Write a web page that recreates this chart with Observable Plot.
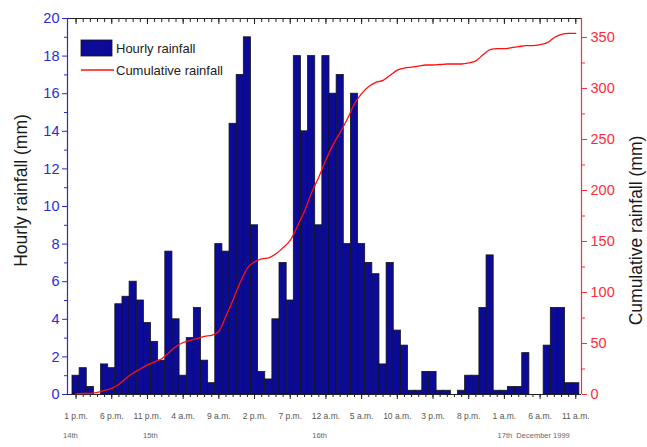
<!DOCTYPE html>
<html><head><meta charset="utf-8">
<script src="https://cdn.jsdelivr.net/npm/d3@7"></script>
<script src="https://cdn.jsdelivr.net/npm/@observablehq/plot@0.6"></script>
<style>
html,body{margin:0;padding:0;background:#fff;}
#chart{position:relative;width:647px;height:447px;font-family:"Liberation Sans",Arial,sans-serif;}
#chart > svg{position:absolute;left:0;top:0;}
</style></head><body><div id="chart"></div>
<script>
// Hourly rainfall (mm), one value per hour from 1 p.m. on the 14th to 11 a.m. on the 17th
const hourly = [
  1.0, 1.4, 0.4, 0.0, 1.6, 1.4, 4.8, 5.2, 6.0, 5.0, 3.8, 2.8, 1.8, 7.6, 4.0, 1.0,
  3.0, 4.6, 1.8, 0.6, 8.0, 7.6, 14.4, 17.0, 19.0, 9.0, 1.2, 0.8, 4.0, 7.0, 5.0, 18.0,
  14.0, 18.0, 9.0, 18.0, 16.0, 17.0, 8.0, 16.0, 8.0, 7.0, 6.4, 1.6, 7.0, 3.4, 2.6, 0.2,
  0.2, 1.2, 1.2, 0.2, 0.2, 0.0, 0.2, 1.0, 1.0, 4.6, 7.4, 0.2, 0.2, 0.4, 0.4, 2.2,
  0.0, 0.0, 2.6, 4.6, 4.6, 0.6, 0.6
];
// Cumulative rainfall (mm) at the same hours
const cumulative = [
  0.7, 1, 1, 2, 4, 6, 10, 16, 21, 25, 29, 32, 35, 41, 47, 51,
  53, 55, 57, 58, 62, 77, 93, 110, 124, 130, 133, 134, 138, 144, 151, 165,
  180, 198, 213, 230, 245, 257, 270, 285, 295, 302, 306, 308, 313, 318, 320, 321,
  322, 323, 323, 323.5, 324, 324, 324, 325, 327, 333, 338, 339, 339, 340, 341, 342,
  342, 343, 345, 350, 353, 354, 354
];
// Labels for every fifth hour
const tickLabels = ["1 p.m.","6 p.m.","11 p.m.","4 a.m.","9 a.m.","2 p.m.","7 p.m.","12 a.m.",
  "5 a.m.","10 a.m.","3 p.m.","8 p.m.","1 a.m.","6 a.m.","11 a.m."];
const dayLabels = ["14th","15th","16th","17th  December 1999"];
const dayHours = [-0.8, 10.4, 34.1, 64.1];
const seriesNames = ["Hourly rainfall","Cumulative rainfall"];

const W = 647, H = 447;
const frame = {marginLeft: 67, marginRight: 66, marginTop: 18, marginBottom: 53};
const xDomain = [-1.2, 70.8];
const blue = "#2b2bd6", red = "#ff2a3a";
const font = "'Liberation Sans', Arial, sans-serif";

const bars = hourly.map((v, i) => ({i, v}));
const cum = cumulative.map((v, i) => ({i, v}));
const hours = d3.range(0, hourly.length);
const majorHours = hours.filter(h => h % 5 === 0);
const blank = () => "";

// Hourly bars, time axes and the left (mm per hour) axis
const hourlyChart = Plot.plot({
  width: W, height: H, ...frame,
  style: {fontFamily: font, background: "transparent", overflow: "visible"},
  x: {domain: xDomain, axis: null, label: null},
  y: {domain: [0, 20], axis: null, label: null},
  marks: [
    Plot.rectY(bars.filter(d => d.v > 0), {
      x1: d => d.i - 0.5, x2: d => d.i + 0.5, y: "v",
      fill: "#0b0b98", stroke: "#151515", strokeWidth: 0.8
    }),
    Plot.ruleY([0], {stroke: "#222", strokeWidth: 1.2}),
    Plot.ruleY([20], {stroke: "#222", strokeWidth: 1.2}),
    Plot.ruleX([xDomain[0]], {stroke: blue, strokeWidth: 1.2}),
    // bottom hour ticks
    Plot.axisX({anchor: "bottom", ticks: hours, tickSize: 3, tickFormat: blank, stroke: "#222", label: null}),
    Plot.axisX({anchor: "bottom", ticks: majorHours, tickSize: 5, tickPadding: 13, label: null,
      tickFormat: d => tickLabels[d / 5], fontSize: 8.5, fill: "#555", stroke: "#222"}),
    // top hour ticks, pointing into the frame
    Plot.axisX({anchor: "top", ticks: hours, tickSize: -3, tickFormat: blank, stroke: "#222", label: null}),
    Plot.axisX({anchor: "top", ticks: majorHours, tickSize: -5, tickFormat: blank, stroke: "#222", label: null}),
    // day labels under the hours
    Plot.text(dayLabels, {x: (d, i) => dayHours[i], frameAnchor: "bottom", dy: 43,
      fontSize: 7.5, fill: "#666"}),
    // left axis
    Plot.axisY({anchor: "left", ticks: d3.range(1, 20, 2), tickSize: 3, tickFormat: blank, stroke: blue, label: null}),
    Plot.axisY({anchor: "left", ticks: d3.range(0, 21, 2), tickSize: 5, tickPadding: 3,
      fontSize: 14.5, fill: blue, stroke: blue, label: null}),
    Plot.text(["Hourly rainfall (mm)"], {frameAnchor: "left", textAnchor: "middle", dx: -46, dy: -16,
      rotate: -90, fontSize: 17.5, fill: "#1a1a1a"})
  ]
});

// Cumulative line and the right (total mm) axis
const cumulativeChart = Plot.plot({
  width: W, height: H, ...frame,
  style: {fontFamily: font, background: "transparent", overflow: "visible"},
  x: {domain: xDomain, axis: null, label: null},
  y: {domain: [0, 368.6], axis: null, label: null},
  marks: [
    Plot.line(cum, {x: "i", y: "v", stroke: "#ff1010", strokeWidth: 1.3, curve: "monotone-x"}),
    Plot.ruleX([xDomain[1]], {stroke: red, strokeWidth: 1.2}),
    Plot.axisY({anchor: "right", ticks: d3.range(25, 351, 50), tickSize: 3, tickFormat: blank, stroke: red, label: null}),
    Plot.axisY({anchor: "right", ticks: d3.range(0, 351, 50), tickSize: 5, tickPadding: 4,
      fontSize: 14.5, fill: red, stroke: red, label: null}),
    Plot.text(["Cumulative rainfall (mm)"], {frameAnchor: "right", textAnchor: "middle", dx: 55, dy: 24,
      rotate: -90, fontSize: 17.5, fill: "#1a1a1a"})
  ]
});

const root = document.getElementById("chart");
root.append(hourlyChart, cumulativeChart);

// Legend box in the upper left of the plot frame
const ns = "http://www.w3.org/2000/svg";
const legend = document.createElementNS(ns, "svg");
legend.setAttribute("width", W);
legend.setAttribute("height", H);
legend.style.pointerEvents = "none";
const sw = document.createElementNS(ns, "rect");
Object.entries({x: 81, y: 40, width: 31, height: 16, fill: "#0b0b98", stroke: "#151515", "stroke-width": 0.8})
  .forEach(([k, v]) => sw.setAttribute(k, v));
const ln = document.createElementNS(ns, "line");
Object.entries({x1: 81, x2: 114, y1: 70, y2: 70, stroke: "#ff1010", "stroke-width": 1.3})
  .forEach(([k, v]) => ln.setAttribute(k, v));
legend.append(sw, ln);
seriesNames.forEach((name, i) => {
  const t = document.createElementNS(ns, "text");
  t.setAttribute("x", 116);
  t.setAttribute("y", 48 + i * 22);
  t.setAttribute("dy", "0.35em");
  t.setAttribute("font-size", 13);
  t.setAttribute("font-family", font);
  t.setAttribute("fill", "#222");
  t.textContent = name;
  legend.append(t);
});
root.append(legend);
</script></body></html>
